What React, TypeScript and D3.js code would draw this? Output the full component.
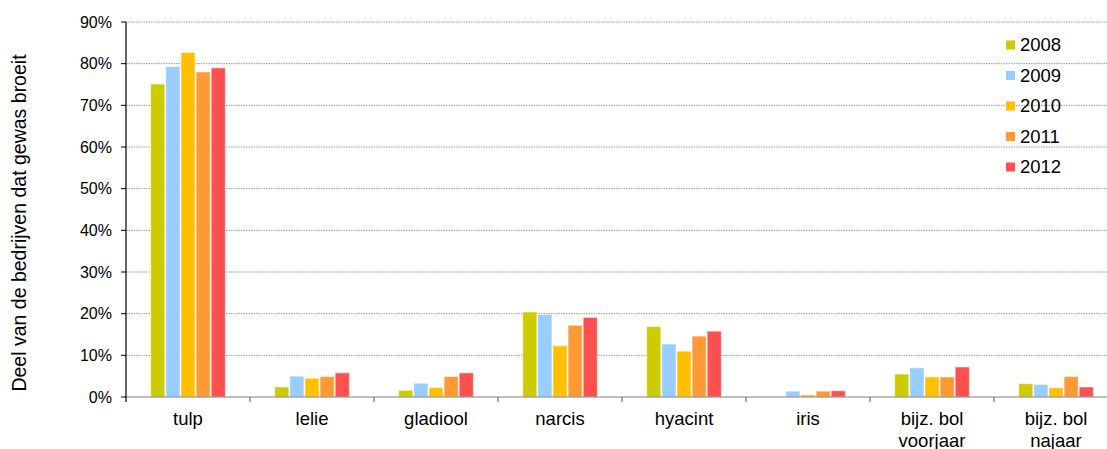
import React from "react";
import * as d3 from "d3";

const categories = ["tulp", "lelie", "gladiool", "narcis", "hyacint", "iris", "bijz. bol|voorjaar", "bijz. bol|najaar"];
const years = ["2008", "2009", "2010", "2011", "2012"];
const colors = ["#CCCC00", "#99CCFF", "#FFC000", "#FF9933", "#FF5050"];
const v2008 = [75.1, 2.4, 1.6, 20.4, 16.9, 0, 5.5, 3.2];
const v2009 = [79.3, 5.0, 3.3, 19.8, 12.7, 1.4, 7.0, 3.0];
const v2010 = [82.7, 4.5, 2.3, 12.3, 11.0, 0.5, 4.8, 2.2];
const v2011 = [78.0, 4.9, 4.9, 17.2, 14.6, 1.4, 4.8, 4.9];
const v2012 = [79.0, 5.8, 5.8, 19.1, 15.8, 1.5, 7.2, 2.4];
const series = [v2008, v2009, v2010, v2011, v2012];
const yTicks = [0, 10, 20, 30, 40, 50, 60, 70, 80, 90];
const yLabel = "Deel van de bedrijven dat gewas broeit";

const W = 1107, H = 449;
const left = 126, top = 22, bottom = 397;
const font = "Arial, 'Liberation Sans', sans-serif";

export default function App() {
  const x = d3.scaleBand<string>().domain(categories).range([left, left + 992]).padding(0);
  const inner = d3.scaleBand<string>().domain(years).range([0, x.bandwidth()]).paddingInner(0).paddingOuter(1.6);
  const y = d3.scaleLinear().domain([0, 90]).range([bottom, top]);

  return (
    <svg width={W} height={H} style={{ position: "absolute", left: 0, top: 0, background: "#fff" }} fontFamily={font}>
      {yTicks.filter(t => t > 0).map(t => (
        <line key={"g" + t} x1={left} x2={W} y1={y(t)} y2={y(t)} stroke="#9a9a9a" strokeWidth={1} strokeDasharray="1.5 1" />
      ))}
      {series.map((vals, si) =>
        categories.map((c, ci) => {
          const v = vals[ci];
          if (v <= 0) return null;
          const bx = (x(c) as number) + (inner(years[si]) as number);
          return (
            <rect key={si + "-" + ci} x={bx + 0.5} y={y(v)} width={inner.bandwidth() - 1} height={bottom - y(v)}
              fill={colors[si]} stroke="#ffffff" strokeOpacity={0.5} strokeWidth={1} />
          );
        })
      )}
      <line x1={left} x2={W} y1={bottom} y2={bottom} stroke="#808080" strokeWidth={1.2} />
      <line x1={left} x2={left} y1={top} y2={bottom + 5} stroke="#000" strokeWidth={1.2} />
      {yTicks.map(t => (
        <g key={"t" + t}>
          <line x1={left - 5} x2={left} y1={y(t)} y2={y(t)} stroke="#000" strokeWidth={1} />
          <text x={112} y={y(t)} dy="0.35em" textAnchor="end" fontSize={16} fill="#000">{t}%</text>
        </g>
      ))}
      {categories.map((c, i) => {
        const bx = x(c) as number;
        const lines = c.split("|");
        return (
          <g key={"c" + c}>
            {i > 0 && <line x1={bx} x2={bx} y1={bottom} y2={bottom + 5} stroke="#555" strokeWidth={1} />}
            {lines.map((l, li) => (
              <text key={li} x={bx + x.bandwidth() / 2} y={425 + li * 22} textAnchor="middle" fontSize={18.5} fill="#000">{l}</text>
            ))}
          </g>
        );
      })}
      <text transform={`translate(26,223) rotate(-90)`} textAnchor="middle" fontSize={19.5} fill="#000">{yLabel}</text>
      {years.map((yr, i) => (
        <g key={"l" + yr} transform={`translate(1006,${45 + i * 30.5})`}>
          <rect x={0} y={-4.5} width={9} height={9} fill={colors[i]} />
          <text x={14} y={0} dy="0.35em" fontSize={18.5} fill="#000">{yr}</text>
        </g>
      ))}
    </svg>
  );
}
